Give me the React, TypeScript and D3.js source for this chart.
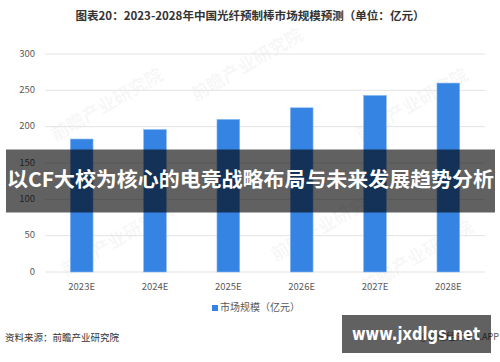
import React from "react";
import * as d3 from "d3";

const years = ["2023E", "2024E", "2025E", "2026E", "2027E", "2028E"];
const marketSize = [183, 196, 210, 226, 243, 260];
const yTicks = [0, 50, 100, 150, 200, 250, 300];

const title = "图表20：2023-2028年中国光纤预制棒市场规模预测（单位：亿元）";
const legendLabel = "市场规模（亿元）";
const sourceText = "资料来源：前瞻产业研究院";
const bannerText = "以CF大校为核心的电竞战略布局与未来发展趋势分析";
const siteText = "www.jxdlgs.net";

const W = 500;
const H = 362;
const FONT = "'Noto Sans CJK SC', 'Noto Sans', sans-serif";

export default function App() {
    const margin = { top: 54, right: 15, bottom: 90, left: 45 };

    const x = d3.scaleBand<string>()
        .domain(years)
        .range([margin.left, W - margin.right])
        .paddingInner(0.69)
        .paddingOuter(0.345);

    const y = d3.scaleLinear([0, 300], [H - margin.bottom, margin.top]);

    // faint publisher watermarks in the background
    const marks = [
        { x: 110, y: 110 }, { x: 250, y: 70 }, { x: 330, y: 230 },
        { x: 415, y: 110 }, { x: 120, y: 245 }, { x: 420, y: 262 }
    ];

    return <svg width={W} height={H} style={{ position: "absolute", left: 0, top: 0, background: "#fff" }}
        fontFamily={FONT}>
        <rect width={W} height={H} fill="#fff" />

        {marks.map((m, i) => (
            <text key={i} x={m.x} y={m.y} transform={`rotate(-30 ${m.x} ${m.y})`}
                fontSize={18} fontWeight="bold" fill="#000" fillOpacity={0.05} textAnchor="middle">
                前瞻产业研究院
            </text>
        ))}

        <text x={W / 2} y={20} textAnchor="middle" fontSize={11.5} fontWeight="bold" fill="#333"
            textLength={349} lengthAdjust="spacingAndGlyphs">{title}</text>

        <g name="yTicks">
            {yTicks.map((t) => (
                <g key={t}>
                    <line x1={margin.left} x2={W - margin.right} y1={y(t)} y2={y(t)}
                        stroke="#e3e3e3" strokeWidth={1} />
                    <text x={35} y={y(t)} dominantBaseline="middle" textAnchor="end"
                        fontSize={9.5} fill="#595959">{t}</text>
                </g>
            ))}
        </g>

        <g name="bars">
            {years.map((yr, i) => (
                <rect key={yr} x={x(yr)!} width={x.bandwidth()} y={y(marketSize[i])}
                    height={y(0) - y(marketSize[i])} fill="#3584e4" stroke="#8bb8f0" strokeWidth={0.6} />
            ))}
        </g>

        <g name="xLabels">
            {years.map((yr) => (
                <text key={yr} x={x(yr)! + x.bandwidth() / 2} y={287} textAnchor="middle"
                    dominantBaseline="middle" fontSize={9.5} fill="#595959">{yr}</text>
            ))}
        </g>

        <rect x={212} y={305} width={6} height={6} fill="#3584e4" />
        <text x={220} y={308.5} dominantBaseline="middle" fontSize={10} fill="#595959">{legendLabel}</text>

        <text x={5} y={338} dominantBaseline="middle" fontSize={9.5} fill="#333">{sourceText}</text>
        <text x={499} y={338} dominantBaseline="middle" textAnchor="end" fontSize={9} fill="#555">@前瞻经济学人APP</text>

        <rect x={6} y={149.5} width={489} height={63} fill="#000" fillOpacity={0.62} />
        <text x={7} y={181} dominantBaseline="middle" fontSize={20.5} textLength={487}
            lengthAdjust="spacingAndGlyphs" fontWeight="bold" fill="#fff">{bannerText}</text>

        <rect x={342} y={315} width={149} height={38} fill="#000" fillOpacity={0.62} />
        <text x={352} y={335} dominantBaseline="middle" fontSize={17} textLength={128}
            lengthAdjust="spacingAndGlyphs" fontWeight="bold" fill="#fff"
            fontFamily="'DejaVu Sans', sans-serif">{siteText}</text>
    </svg>;
}
